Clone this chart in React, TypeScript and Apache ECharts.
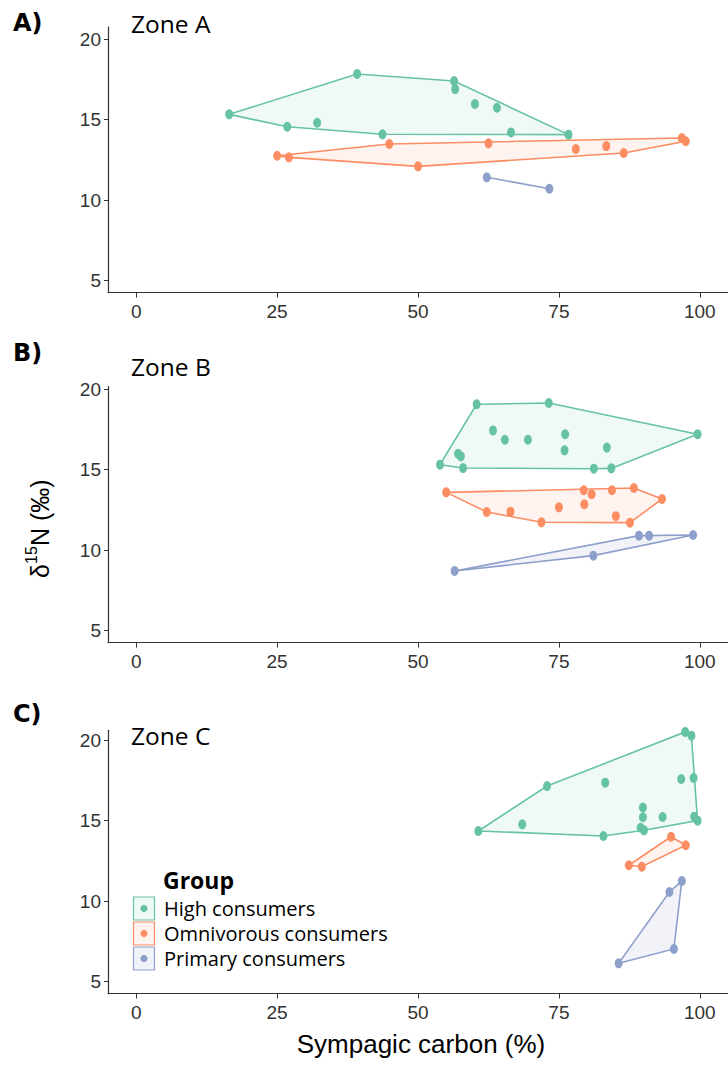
import React, { useEffect, useRef } from "react";
import * as echarts from "echarts";

const groups = ["High consumers", "Omnivorous consumers", "Primary consumers"];
const colors = ["#66c2a5", "#fc8d62", "#8da0cb"];
const fills = ["rgba(102,194,165,0.1)", "rgba(252,141,98,0.1)", "rgba(141,160,203,0.12)"];
const zones = ["Zone A", "Zone B", "Zone C"];
const panelLetters = ["A)", "B)", "C)"];
const xTicks = [0, 25, 50, 75, 100];
const yTicks = [5, 10, 15, 20];

const zoneAHigh = [[16.5, 15.32], [26.8, 14.55], [32.1, 14.8], [39.2, 17.83], [43.7, 14.08], [56.4, 17.39], [56.6, 16.89], [60.1, 15.96], [64.0, 15.73], [66.5, 14.2], [76.7, 14.06]];
const zoneAOmni = [[25.0, 12.75], [27.1, 12.65], [44.9, 13.48], [50.0, 12.09], [62.5, 13.52], [78.0, 13.17], [83.4, 13.35], [86.5, 12.92], [96.8, 13.85], [97.5, 13.65]];
const zoneAPrim = [[62.2, 11.41], [73.3, 10.7]];

const zoneBHigh = [[60.4, 19.05], [73.2, 19.13], [99.6, 17.19], [84.3, 15.07], [81.2, 15.05], [58.0, 15.09], [53.9, 15.3], [57.1, 15.98], [57.6, 15.82], [63.3, 17.43], [65.4, 16.85], [69.5, 16.85], [76.1, 17.19], [76.0, 16.19], [83.5, 16.36]];
const zoneBOmni = [[55.0, 13.58], [79.4, 13.71], [84.4, 13.71], [88.3, 13.85], [93.3, 13.17], [87.6, 11.7], [71.9, 11.72], [62.2, 12.36], [66.4, 12.38], [75.0, 12.65], [80.8, 13.46], [79.5, 12.84], [85.1, 12.1]];
const zoneBPrim = [[56.5, 8.7], [81.1, 9.65], [89.2, 10.89], [91.0, 10.89], [98.8, 10.93]];

const zoneCHigh = [[97.4, 20.5], [98.5, 20.27], [98.9, 17.64], [96.7, 17.58], [99.6, 14.99], [99.0, 15.24], [93.4, 15.22], [89.9, 15.8], [89.9, 15.2], [89.5, 14.55], [90.1, 14.39], [82.9, 14.04], [60.7, 14.35], [68.5, 14.76], [72.9, 17.14], [83.2, 17.35]];
const zoneCOmni = [[94.9, 13.99], [97.5, 13.46], [89.7, 12.13], [87.4, 12.22]];
const zoneCPrim = [[96.8, 11.24], [94.6, 10.56], [95.4, 7.02], [85.6, 6.13]];

const zoneData = [
  [zoneAHigh, zoneAOmni, zoneAPrim],
  [zoneBHigh, zoneBOmni, zoneBPrim],
  [zoneCHigh, zoneCOmni, zoneCPrim],
];

const yMaxes = [20.75, 20.15, 20.6];
const yMin = 4.25;

function convexHull(pts: number[][]): number[][] {
  const p = pts.slice().sort((a, b) => a[0] - b[0] || a[1] - b[1]);
  if (p.length < 3) return p;
  const cross = (o: number[], a: number[], b: number[]) =>
    (a[0] - o[0]) * (b[1] - o[1]) - (a[1] - o[1]) * (b[0] - o[0]);
  const lower: number[][] = [];
  for (const q of p) {
    while (lower.length >= 2 && cross(lower[lower.length - 2], lower[lower.length - 1], q) <= 0) lower.pop();
    lower.push(q);
  }
  const upper: number[][] = [];
  for (let i = p.length - 1; i >= 0; i--) {
    const q = p[i];
    while (upper.length >= 2 && cross(upper[upper.length - 2], upper[upper.length - 1], q) <= 0) upper.pop();
    upper.push(q);
  }
  upper.pop();
  lower.pop();
  return lower.concat(upper);
}

const TICK_FONT = "'Liberation Sans Narrow', 'Liberation Sans', Arial, sans-serif";
const PX_PER_Y = 16.1;
const Y20 = [39, 389, 740];

export default function App() {
  const ref = useRef<HTMLDivElement>(null);
  useEffect(() => {
    if (!ref.current) return;
    const chart = echarts.init(ref.current, null, { renderer: "svg" });

    const grids: any[] = [];
    const xAxes: any[] = [];
    const yAxes: any[] = [];
    const series: any[] = [];
    const graphics: any[] = [];

    for (let z = 0; z < 3; z++) {
      const yMax = yMaxes[z];
      grids.push({
        left: 108,
        width: 627,
        top: Y20[z] - (yMax - 20) * PX_PER_Y,
        height: (yMax - yMin) * PX_PER_Y,
        containLabel: false,
      });
      xAxes.push({
        type: "value",
        gridIndex: z,
        min: -5,
        max: 105,
        splitLine: { show: false },
        axisLine: { show: true, onZero: false, lineStyle: { color: "#333", width: 1.2 } },
        axisTick: { show: true, customValues: xTicks, length: 5, lineStyle: { color: "#333", width: 1 } },
        axisLabel: { customValues: xTicks, fontSize: 19, fontFamily: TICK_FONT, color: "#333", margin: 9 },
      });
      yAxes.push({
        type: "value",
        gridIndex: z,
        min: yMin,
        max: yMax,
        splitLine: { show: false },
        axisLine: { show: true, onZero: false, lineStyle: { color: "#333", width: 1.2 } },
        axisTick: { show: true, customValues: yTicks, length: 4, lineStyle: { color: "#333", width: 1 } },
        axisLabel: { customValues: yTicks, fontSize: 19, fontFamily: TICK_FONT, color: "#333", margin: 7 },
      });

      for (let g = 0; g < 3; g++) {
        const pts = zoneData[z][g];
        const hull = convexHull(pts);
        const color = colors[g];
        const fill = fills[g];
        series.push({
          type: "custom",
          name: groups[g],
          xAxisIndex: z,
          yAxisIndex: z,
          silent: true,
          z: 1,
          data: hull,
          encode: { x: 0, y: 1 },
          renderItem: (params: any, api: any) => {
            if (params.dataIndex !== 0) return null;
            const poly = hull.map((p) => api.coord(p));
            return {
              type: "polygon",
              shape: { points: poly },
              style: { fill, stroke: color, lineWidth: 1.6 },
            };
          },
        });
        series.push({
          type: "scatter",
          name: groups[g],
          xAxisIndex: z,
          yAxisIndex: z,
          z: 2,
          data: pts,
          symbol: "circle",
          symbolSize: [8, 10],
          itemStyle: { color, opacity: 1 },
        });
      }
    }

    const letterY = [22.5, 353, 714];
    const zoneY = [23, 366, 735];
    for (let z = 0; z < 3; z++) {
      graphics.push({
        type: "text",
        x: 13,
        y: letterY[z],
        style: {
          text: panelLetters[z],
          fontFamily: "'DejaVu Sans', sans-serif",
          fontWeight: "bold",
          fontSize: 24,
          fill: "#000",
          verticalAlign: "middle",
          align: "left",
        },
      });
      graphics.push({
        type: "text",
        x: 131,
        y: zoneY[z],
        style: {
          text: zones[z],
          fontFamily: "'Open Sans', sans-serif",
          fontSize: 24.5,
          fill: "#000",
          verticalAlign: "middle",
          align: "left",
        },
      });
    }

    // legend
    graphics.push({
      type: "text",
      x: 163,
      y: 880,
      style: {
        text: "Group",
        fontFamily: "'Open Sans', sans-serif",
        fontWeight: "bold",
        fontSize: 23,
        fill: "#000",
        verticalAlign: "middle",
        align: "left",
      },
    });
    for (let g = 0; g < 3; g++) {
      const top = 897 + g * 25;
      graphics.push({
        type: "rect",
        shape: { x: 133.5, y: top, width: 21, height: 23 },
        style: { fill: fills[g], stroke: colors[g], lineWidth: 1.2 },
      });
      graphics.push({
        type: "circle",
        shape: { cx: 144, cy: top + 11.5, r: 3.6 },
        style: { fill: colors[g] },
      });
      graphics.push({
        type: "text",
        x: 164,
        y: top + 11.5,
        style: {
          text: groups[g],
          fontFamily: "'Open Sans', sans-serif",
          fontSize: 20,
          fill: "#000",
          verticalAlign: "middle",
          align: "left",
        },
      });
    }

    // y-axis title
    graphics.push({
      type: "group",
      x: 40,
      y: 528,
      rotation: Math.PI / 2,
      children: [
        { type: "text", x: -50, y: 0, style: { text: "δ", fontFamily: "'Liberation Sans', Arial, sans-serif", fontSize: 25, fill: "#000", verticalAlign: "middle", align: "left" } },
        { type: "text", x: -36, y: -9, style: { text: "15", fontFamily: "'Liberation Sans', Arial, sans-serif", fontSize: 16, fill: "#000", verticalAlign: "middle", align: "left" } },
        { type: "text", x: -18, y: 0, style: { text: "N (‰)", fontFamily: "'Liberation Sans', Arial, sans-serif", fontSize: 25, fill: "#000", verticalAlign: "middle", align: "left" } },
      ],
    });

    // x-axis title
    graphics.push({
      type: "text",
      x: 421,
      y: 1044,
      style: {
        text: "Sympagic carbon (%)",
        fontFamily: "'Liberation Sans', Arial, sans-serif",
        fontSize: 26,
        fill: "#000",
        verticalAlign: "middle",
        align: "center",
      },
    });

    chart.setOption({
      animation: false,
      backgroundColor: "#fff",
      grid: grids,
      xAxis: xAxes,
      yAxis: yAxes,
      series,
      graphic: graphics,
    });
    return () => chart.dispose();
  }, []);

  return (
    <div
      ref={ref}
      style={{ position: "absolute", left: 0, top: 0, width: 728, height: 1072 }}
    />
  );
}
